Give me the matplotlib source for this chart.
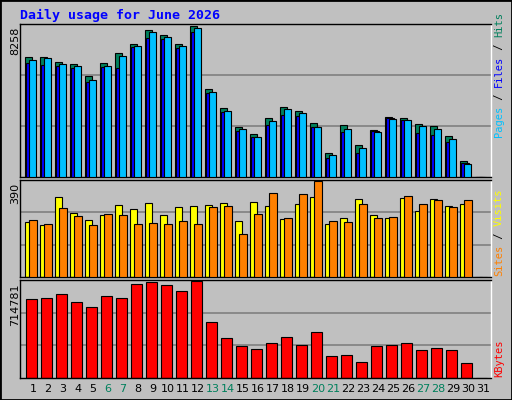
import matplotlib
matplotlib.use("Agg")
import matplotlib.pyplot as plt
from matplotlib.patches import Rectangle

days = list(range(1, 32))
hits = [6580,6580,6300,6190,5520,6245,6800,7250,8033,7755,7250,8258,4790,3785,2720,2330,3225,3840,3615,2945,1325,2835,1770,2555,3280,3225,2890,2780,2220,880,0]
files = [6245,6130,6075,5965,5180,6020,5965,7080,7585,7530,7025,7920,4565,3560,2500,2165,2835,3395,3335,2720,1045,2440,1325,2500,3225,3115,2385,2275,1885,765,0]
pages = [6410,6520,6190,6075,5295,6075,6635,7140,7920,7640,7140,8145,4620,3615,2610,2165,3055,3730,3505,2720,1215,2610,1605,2440,3170,3115,2780,2610,2050,710,0]
sites = [225,212,326,263,233,254,292,276,301,254,284,288,292,301,229,305,288,237,297,326,216,242,318,254,242,322,271,318,288,297,0]
visits = [233,216,280,250,212,259,254,216,220,216,229,216,284,288,174,259,343,242,339,390,229,225,297,242,246,331,297,314,284,314,0]
kbytes = [581000,589000,621000,558000,526000,605000,589000,691000,711000,683000,644000,714781,416000,298000,236000,212000,259000,306000,244000,338000,165000,173000,118000,236000,244000,259000,204000,220000,204000,110000,0]
weekends = [6, 7, 13, 14, 20, 21, 27, 28]

W, H = 512, 400
fig = plt.figure(figsize=(W/100, H/100), dpi=100)
fig.patch.set_facecolor("#C0C0C0")
fig.patches.append(Rectangle((0, 0), 1, 1, transform=fig.transFigure, fill=False,
                             edgecolor="black", lw=2))

def ax_at(x0, y0, x1, y1):
    return fig.add_axes([x0/W, 1-y1/H, (x1-x0)/W, (y1-y0)/H])

BG = "#C0C0C0"
GRID = "#808080"
EC = "black"
mono = "DejaVu Sans Mono"

def setup(ax, top):
    ax.set_facecolor(BG)
    ax.set_xlim(0, 31.4)
    ax.set_ylim(0, top)
    for v in (top/3, 2*top/3):
        ax.axhline(v, color=GRID, lw=1.2, zorder=0)
    ax.set_xticks([]); ax.set_yticks([])
    for s in ax.spines.values():
        s.set_color("black"); s.set_linewidth(1)
    ax.spines["right"].set_color("white")

x = [d - 1 for d in days]

ax1 = ax_at(20, 24, 491, 177)
top1 = max(hits) * 1.012
setup(ax1, top1)
ax1.bar([v + 0.33 for v in x], hits, width=0.5, align="edge", color="#00805C", edgecolor=EC, lw=0.8, zorder=2)
ax1.bar([v + 0.43 for v in x], files, width=0.5, align="edge", color="#0000FF", edgecolor=EC, lw=0.8, zorder=3)
ax1.bar([v + 0.58 for v in x], pages, width=0.5, align="edge", color="#00C0FF", edgecolor=EC, lw=0.8, zorder=4)

ax2 = ax_at(20, 180, 491, 277)
top2 = max(visits) * 1.015
setup(ax2, top2)
ax2.bar([v + 0.33 for v in x], sites, width=0.5, align="edge", color="#FFFF00", edgecolor=EC, lw=0.8, zorder=2)
ax2.bar([v + 0.6 for v in x], visits, width=0.5, align="edge", color="#FF8000", edgecolor=EC, lw=0.8, zorder=3)

ax3 = ax_at(20, 280, 491, 378)
top3 = max(kbytes) * 1.012
setup(ax3, top3)
ax3.bar([v + 0.4 for v in x], kbytes, width=0.7, align="edge", color="#FF0000", edgecolor=EC, lw=0.8, zorder=2)

for d in days:
    fig.text((20 + (d - 1 + 0.87) * 15) / W, 1 - 389/H, str(d), ha="center", va="center",
             fontsize=8, family="DejaVu Sans",
             color="#00805C" if d in weekends else "black")

fig.text(20/W, 1 - 15/H, "Daily usage for June 2026", color="#0000FF", fontsize=9.5,
         fontweight="bold", family=mono, ha="left", va="center")

for ytop, lab in ((27, "8258"), (183, "390"), (283, "714781")):
    fig.text(15/W, 1 - ytop/H, lab, rotation=90, ha="center", va="top", fontsize=8,
             family="DejaVu Sans")

FS = 7.5
charh = FS * 0.6 * 100 / 72  # monospace advance in pixels

def right_label(parts, ybottom):
    y = ybottom
    for txt, col in parts:
        fig.text(499/W, 1 - y/H, txt, rotation=90, ha="center", va="bottom",
                 fontsize=FS, family=mono, color=col)
        y -= len(txt) * charh

right_label([("Pages", "#00C0FF"), (" / ", "black"), ("Files", "#0000FF"), (" / ", "black"), ("Hits", "#00805C")], 137)
right_label([("Sites", "#FF8000"), (" / ", "black"), ("Visits", "#FFFF00")], 276)
right_label([("KBytes", "#FF0000")], 377)

fig.savefig("out.png", dpi=100, facecolor=fig.get_facecolor())
